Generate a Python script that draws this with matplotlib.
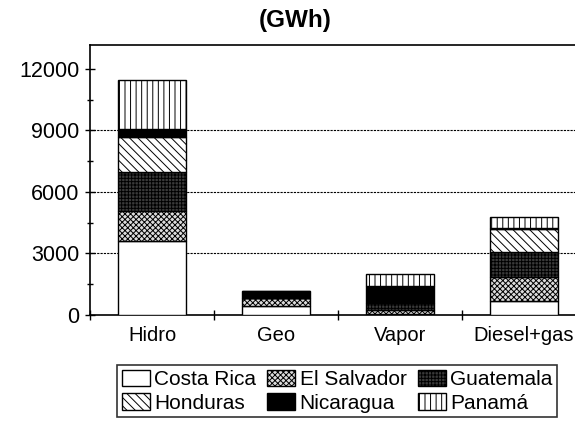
import matplotlib
matplotlib.use("Agg")
import matplotlib.pyplot as plt
import numpy as np
from matplotlib.patches import Patch

plt.rcParams['font.family'] = ['Liberation Sans', 'DejaVu Sans']
plt.rcParams['hatch.linewidth'] = 0.7

categories = ["Hidro", "Geo", "Vapor", "Diesel+gas"]
countries = ["Costa Rica", "El Salvador", "Guatemala", "Honduras", "Nicaragua", "Panamá"]
costa_rica = [3620, 430, 50, 685]
el_salvador = [1430, 420, 200, 1160]
guatemala = [1930, 0, 330, 1250]
honduras = [1710, 0, 0, 1095]
nicaragua = [390, 300, 820, 60]
panama = [2370, 0, 580, 530]
yticks = [0, 3000, 6000, 9000, 12000]

series = [costa_rica, el_salvador, guatemala, honduras, nicaragua, panama]
styles = [
    dict(facecolor="white", hatch=None),
    dict(facecolor="#dcdcdc", hatch="xxxxxx"),
    dict(facecolor="#3a3a3a", hatch="+++++"),
    dict(facecolor="white", hatch="\\\\\\\\"),
    dict(facecolor="black", hatch=None),
    dict(facecolor="white", hatch="|||"),
]

fig = plt.figure(figsize=(5.75, 4.22), dpi=100)
ax = fig.add_axes([90/575, 107/422, 496/575, 270/422])

x = np.arange(len(categories))
bottom = np.zeros(len(categories))
handles = []
for name, vals, st in zip(countries, series, styles):
    vals = np.array(vals, dtype=float)
    ax.bar(x, vals, 0.55, bottom=bottom, facecolor=st["facecolor"],
           hatch=st["hatch"], edgecolor="black", linewidth=1.0, zorder=3)
    bottom += vals
    handles.append(Patch(facecolor=st["facecolor"], hatch=st["hatch"],
                         edgecolor="black", linewidth=1.0, label=name))

ax.set_xlim(-0.5, 3.5)
ax.set_ylim(0, 13170)
ax.set_yticks(yticks)
ax.set_yticklabels([str(v) for v in yticks], fontsize=15.5)
ax.set_yticks(np.arange(1500, 12001, 3000), minor=True)
ax.tick_params(axis="y", which="major", direction="inout", length=7, width=1, pad=4)
ax.tick_params(axis="y", which="minor", direction="inout", length=5, width=1)
ax.set_xticks(x)
ax.set_xticklabels(categories, fontsize=14.5)
ax.tick_params(axis="x", which="major", length=0, pad=8)
ax.set_xticks(np.arange(-0.5, 3.6, 1.0), minor=True)
ax.tick_params(axis="x", which="minor", direction="inout", length=7, width=1)

for yv in [3000, 6000, 9000]:
    ax.axhline(yv, color="black", linestyle=(0, (2, 1)), linewidth=0.8, zorder=1)

for s in ax.spines.values():
    s.set_linewidth(1.2)

fig.text(295/575, 1 - 20/422, "(GWh)", ha="center", va="center",
         fontsize=17.5, fontweight="bold")

order = [0, 3, 1, 4, 2, 5]
leg = fig.legend([handles[i] for i in order], [countries[i] for i in order],
                 ncol=3, loc="upper left", bbox_to_anchor=(117/575, 1 - 365/422),
                 fontsize=15, frameon=True, fancybox=False, edgecolor="black",
                 handlelength=1.35, handleheight=0.85, handletextpad=0.2,
                 columnspacing=0.55, labelspacing=0.2, borderpad=0.22,
                 borderaxespad=0)
leg.get_frame().set_linewidth(1.2)

fig.savefig("out.png", dpi=100)
